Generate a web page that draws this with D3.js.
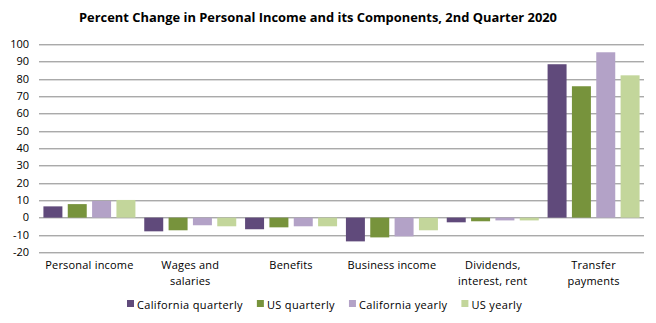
<!DOCTYPE html>
<html>
<head>
<meta charset="utf-8">
<script src="https://cdn.jsdelivr.net/npm/d3@7"></script>
<style>
  body { margin: 0; background: #fff; }
  svg text { font-family: "Open Sans", "Liberation Sans", sans-serif; fill: #000; }
</style>
</head>
<body>
<svg id="chart" width="656" height="323"></svg>
<script>
// data
const categories = [["Personal income"], ["Wages and", "salaries"], ["Benefits"],
    ["Business income"], ["Dividends,", "interest, rent"], ["Transfer", "payments"]];
const seriesNames = ["California quarterly", "US quarterly", "California yearly", "US yearly"];
const caQuarterly = [6.5, -7.9, -6.7, -13.7, -2.7, 88.5];
const usQuarterly = [7.8, -7.3, -5.6, -11.4, -2.1, 75.8];
const caYearly = [9.6, -4.4, -5.0, -10.8, -1.6, 95.4];
const usYearly = [10.2, -5.0, -5.0, -7.3, -1.6, 82.1];
const yTicks = [-20, -10, 0, 10, 20, 30, 40, 50, 60, 70, 80, 90, 100];
const colors = ["#604a7b", "#77933c", "#b3a2c7", "#c3d69b"];

const series = [caQuarterly, usQuarterly, caYearly, usYearly];

let svg = d3.select("#chart");
let margin = {left: 39, right: 12, top: 44.3, bottom: 70.7};
let width = 656 - margin.left - margin.right;
let height = 323 - margin.top - margin.bottom;

let x = d3.scaleBand()
    .domain(d3.range(categories.length))
    .range([0, width]);
let x1 = d3.scaleBand()
    .domain(d3.range(series.length))
    .range([0, 92])
    .paddingInner(0.22);
let y = d3.scaleLinear().domain([-20, 100]).range([height, 0]);

svg.append("text")
    .attr("x", 318)
    .attr("y", 22)
    .attr("text-anchor", "middle")
    .attr("font-size", 13)
    .attr("font-weight", "bold")
    .attr("textLength", 478)
    .attr("lengthAdjust", "spacingAndGlyphs")
    .text("Percent Change in Personal Income and its Components, 2nd Quarter 2020");

let g = svg.append("g").attr("transform", "translate(" + margin.left + "," + margin.top + ")");

// gridlines
g.selectAll(".grid")
    .data(yTicks)
    .enter().append("line")
    .attr("class", "grid")
    .attr("x1", 0)
    .attr("x2", width)
    .attr("y1", d => Math.round(y(d)) + 0.5)
    .attr("y2", d => Math.round(y(d)) + 0.5)
    .attr("stroke", "#868686")
    .attr("stroke-width", 1);

// y labels
g.selectAll(".ylab")
    .data(yTicks)
    .enter().append("text")
    .attr("class", "ylab")
    .attr("x", -10)
    .attr("y", d => y(d))
    .attr("dy", "0.35em")
    .attr("text-anchor", "end")
    .attr("font-size", 11)
    .text(d => d);

// bars
let groups = g.selectAll(".cat")
    .data(categories.map((c, i) => i))
    .enter().append("g")
    .attr("class", "cat")
    .attr("transform", i => "translate(" + (x(i) + (x.bandwidth() - 92) / 2) + ",0)");

groups.selectAll("rect")
    .data(i => series.map((s, k) => ({k: k, v: s[i]})))
    .enter().append("rect")
    .attr("x", d => x1(d.k))
    .attr("width", x1.bandwidth())
    .attr("y", d => y(Math.max(0, d.v)))
    .attr("height", d => Math.abs(y(d.v) - y(0)))
    .attr("fill", d => colors[d.k]);

// category labels
let catLabels = g.selectAll(".catlab")
    .data(categories)
    .enter().append("text")
    .attr("class", "catlab")
    .attr("text-anchor", "middle")
    .attr("font-size", 11)
    .attr("letter-spacing", 0.2)
    .attr("transform", (d, i) => "translate(" + (x(i) + x.bandwidth() / 2) + "," + (height + 17) + ")");
catLabels.selectAll("tspan")
    .data(d => d)
    .enter().append("tspan")
    .attr("x", 0)
    .attr("y", (d, i) => i * 16)
    .text(d => d);

// legend
let legend = svg.append("g").attr("transform", "translate(0,306)");
let lx = 127;
seriesNames.forEach((name, k) => {
    legend.append("rect")
        .attr("x", lx)
        .attr("y", -6)
        .attr("width", 7)
        .attr("height", 7)
        .attr("fill", colors[k]);
    let t = legend.append("text")
        .attr("x", lx + 10)
        .attr("y", 0)
        .attr("dy", "0.3em")
        .attr("font-size", 11)
        .attr("letter-spacing", 0.35)
        .text(name);
    lx += 10 + t.node().getComputedTextLength() + 14;
});
</script>
</body>
</html>
